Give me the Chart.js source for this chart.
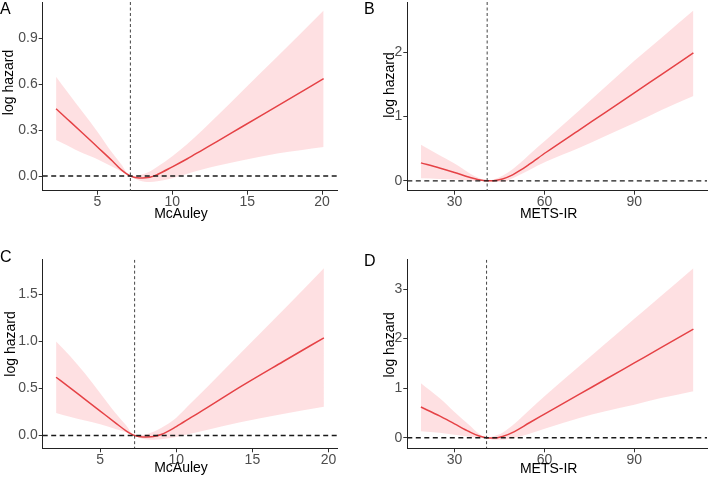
<!DOCTYPE html>
<html>
<head>
<meta charset="utf-8">
<script src="https://cdn.jsdelivr.net/npm/chart.js@4"></script>
<style>
  body { margin: 0; background: #fff; }
  #wrap { position: relative; width: 709px; height: 478px; }
  canvas { position: absolute; }
</style>
</head>
<body>
<div id="wrap">
  <canvas id="panelA" width="354" height="239" style="left:0;top:0"></canvas>
  <canvas id="panelB" width="355" height="239" style="left:354px;top:0"></canvas>
  <canvas id="panelC" width="354" height="239" style="left:0;top:239px"></canvas>
  <canvas id="panelD" width="355" height="239" style="left:354px;top:239px"></canvas>
</div>
<script>
// Panel A - McAuley
const xA   = [2.24, 3, 4, 5, 6, 6.6, 7.2, 7.8, 8.5, 9, 10, 11, 12, 13, 14.54, 17, 20.1];
const fitA = [0.44, 0.372, 0.282, 0.19, 0.098, 0.04, 0, -0.013, -0.008, 0.01, 0.06, 0.113, 0.17, 0.227, 0.316, 0.458, 0.637];
const lowA = [0.235, 0.2, 0.15, 0.11, 0.06, 0.03, 0, -0.03, -0.04, -0.035, -0.015, 0.015, 0.042, 0.067, 0.1, 0.147, 0.19];
const uppA = [0.65, 0.55, 0.42, 0.29, 0.15, 0.075, 0, 0.005, 0.03, 0.06, 0.13, 0.21, 0.3, 0.395, 0.544, 0.78, 1.083];
const refA = 7.2;
const xTicksA = [5, 10, 15, 20];
const yTicksA = [0, 0.3, 0.6, 0.9];
const yLabelsA = ['0.0', '0.3', '0.6', '0.9'];

// Panel B - METS-IR
const xB   = [18.8, 25, 30, 35, 38, 40.9, 43, 46, 49.4, 52, 55, 60.6, 71.7, 80, 90, 98.9, 109.7];
const fitB = [0.28, 0.2, 0.13, 0.055, 0.018, 0, 0.003, 0.03, 0.094, 0.165, 0.26, 0.445, 0.795, 1.055, 1.37, 1.65, 1.99];
const lowB = [0.04, 0.03, 0.02, 0.005, -0.005, 0, -0.02, -0.02, 0.04, 0.1, 0.17, 0.3, 0.515, 0.69, 0.9, 1.1, 1.32];
const uppB = [0.56, 0.4, 0.27, 0.12, 0.05, 0, 0.02, 0.08, 0.18, 0.28, 0.41, 0.64, 1.1, 1.45, 1.87, 2.22, 2.65];
const refB = 40.9;
const xTicksB = [30, 60, 90];
const yTicksB = [0, 1, 2];
const yLabelsB = ['0', '1', '2'];

// Panel C - McAuley
const xC   = [2.1, 3, 4, 5, 6, 6.7, 7.26, 7.8, 8.5, 9, 10, 11, 12, 14.2, 17, 19.7];
const fitC = [0.62, 0.51, 0.385, 0.26, 0.135, 0.05, 0, -0.015, -0.01, 0.01, 0.095, 0.195, 0.293, 0.517, 0.785, 1.04];
const lowC = [0.24, 0.2, 0.16, 0.12, 0.07, 0.035, 0, -0.035, -0.045, -0.04, -0.015, 0.02, 0.058, 0.14, 0.23, 0.305];
const uppC = [1.0, 0.85, 0.66, 0.45, 0.24, 0.11, 0, 0.005, 0.04, 0.08, 0.19, 0.35, 0.51, 0.872, 1.33, 1.78];
const refC = 7.26;
const xTicksC = [5, 10, 15, 20];
const yTicksC = [0, 0.5, 1, 1.5];
const yLabelsC = ['0.0', '0.5', '1.0', '1.5'];

// Panel D - METS-IR
const xD   = [18.8, 25, 30, 35, 38, 40.7, 43, 46, 50, 55, 60.6, 71.7, 80, 90, 98.9, 109.7];
const fitD = [0.62, 0.44, 0.28, 0.12, 0.04, 0, -0.006, 0.025, 0.125, 0.303, 0.496, 0.879, 1.165, 1.51, 1.817, 2.19];
const lowD = [0.13, 0.1, 0.06, 0.02, 0.005, 0, -0.04, -0.04, 0.0, 0.08, 0.19, 0.4, 0.53, 0.665, 0.8, 0.94];
const uppD = [1.1, 0.8, 0.52, 0.25, 0.09, 0, 0.03, 0.1, 0.28, 0.56, 0.87, 1.45, 1.88, 2.4, 2.86, 3.42];
const refD = 40.7;
const xTicksD = [30, 60, 90];
const yTicksD = [0, 1, 2, 3];
const yLabelsD = ['0', '1', '2', '3'];

const FONT = "'Liberation Sans', Arial, Helvetica, sans-serif";
const RED = '#e03a3c';
const BAND = 'rgba(250, 100, 110, 0.2)';

const pts = (xs, ys) => xs.map((x, i) => ({ x: x, y: ys[i] }));

// ggplot style 5% expansion of the data range
const expand = (lo, hi) => {
  const d = (hi - lo) * 0.05;
  return [lo - d, hi + d];
};

const decor = {
  id: 'decor',
  afterDatasetsDraw(chart, args, o) {
    const { ctx, chartArea: a, scales: { x, y } } = chart;
    ctx.save();
    ctx.beginPath();
    ctx.rect(a.left, a.top, a.right - a.left, a.bottom - a.top);
    ctx.clip();
    // reference value
    const rx = x.getPixelForValue(o.ref);
    ctx.beginPath();
    ctx.setLineDash([3, 2.5]);
    ctx.lineWidth = 1;
    ctx.strokeStyle = '#444';
    ctx.moveTo(rx, a.top);
    ctx.lineTo(rx, a.bottom);
    ctx.stroke();
    // log hazard = 0
    const y0 = y.getPixelForValue(0);
    ctx.beginPath();
    ctx.setLineDash([5, 3.5]);
    ctx.lineWidth = 1.3;
    ctx.strokeStyle = '#1a1a1a';
    ctx.moveTo(a.left, y0);
    ctx.lineTo(a.right, y0);
    ctx.stroke();
    ctx.restore();
  },
  afterDraw(chart, args, o) {
    const ctx = chart.ctx;
    ctx.save();
    ctx.fillStyle = '#000';
    ctx.textBaseline = 'alphabetic';
    ctx.font = '16px ' + FONT;
    ctx.textAlign = 'left';
    ctx.fillText(o.letter, o.letterX, o.letterY);
    ctx.font = '14px ' + FONT;
    ctx.textAlign = 'center';
    ctx.fillText(o.xTitle, o.xTitleX, o.xTitleY);
    ctx.translate(o.yTitleX, o.yTitleY);
    ctx.rotate(-Math.PI / 2);
    ctx.fillText('log hazard', 0, 0);
    ctx.restore();
  }
};

function makePanel(id, xs, fit, low, upp, ref, xTicks, yTicks, yLabels, box, text) {
  const xr = expand(Math.min(...xs), Math.max(...xs));
  const yr = expand(Math.min(...low), Math.max(...upp));
  return new Chart(document.getElementById(id), {
    type: 'line',
    data: {
      datasets: [
        { data: pts(xs, low), borderColor: 'rgba(0,0,0,0)', borderWidth: 0, pointRadius: 0, fill: false, cubicInterpolationMode: 'monotone' },
        { data: pts(xs, upp), borderColor: 'rgba(0,0,0,0)', borderWidth: 0, pointRadius: 0, fill: '-1', backgroundColor: BAND, cubicInterpolationMode: 'monotone' },
        { data: pts(xs, fit), borderColor: RED, borderWidth: 1.5, pointRadius: 0, fill: false, cubicInterpolationMode: 'monotone' }
      ]
    },
    options: {
      responsive: false,
      animation: false,
      events: [],
      layout: { padding: { left: 0, right: box.right, top: box.top, bottom: 0 } },
      plugins: {
        legend: { display: false },
        tooltip: { enabled: false },
        decor: Object.assign({ ref: ref }, text)
      },
      scales: {
        x: {
          type: 'linear',
          min: xr[0],
          max: xr[1],
          afterBuildTicks: s => { s.ticks = xTicks.map(v => ({ value: v })); },
          afterFit: s => { s.height = box.xAxisH; s.paddingLeft = 0; s.paddingRight = 0; },
          ticks: { color: '#4d4d4d', font: { family: FONT, size: 14 }, padding: -1, maxRotation: 0, autoSkip: false },
          grid: { drawOnChartArea: false, drawTicks: true, tickLength: 4, color: '#333' },
          border: { display: true, color: '#222', width: 1 }
        },
        y: {
          type: 'linear',
          min: yr[0],
          max: yr[1],
          afterBuildTicks: s => { s.ticks = yTicks.map(v => ({ value: v })); },
          afterFit: s => { s.width = box.yAxisW; s.paddingTop = 0; s.paddingBottom = 0; },
          ticks: { color: '#4d4d4d', font: { family: FONT, size: 14 }, padding: 1, autoSkip: false,
                   callback: (v, i) => yLabels[i] },
          grid: { drawOnChartArea: false, drawTicks: true, tickLength: 4, color: '#333' },
          border: { display: true, color: '#222', width: 1 }
        }
      }
    },
    plugins: [decor]
  });
}

makePanel('panelA', xA, fitA, lowA, uppA, refA, xTicksA, yTicksA, yLabelsA,
  { right: 17, top: 2, xAxisH: 48.3, yAxisW: 42.7 },
  { letter: 'A', letterX: 0, letterY: 13.5, xTitle: 'McAuley', xTitleX: 181, xTitleY: 218, yTitleX: 13, yTitleY: 82.5 });

makePanel('panelB', xB, fitB, lowB, uppB, refB, xTicksB, yTicksB, yLabelsB,
  { right: 2, top: 2, xAxisH: 48.3, yAxisW: 53.3 },
  { letter: 'B', letterX: 10, letterY: 14, xTitle: 'METS-IR', xTitleX: 194.7, xTitleY: 218.3, yTitleX: 39.7, yTitleY: 85 });

makePanel('panelC', xC, fitC, lowC, uppC, refC, xTicksC, yTicksC, yLabelsC,
  { right: 16.7, top: 20.7, xAxisH: 29.7, yAxisW: 42.7 },
  { letter: 'C', letterX: 0, letterY: 23.3, xTitle: 'McAuley', xTitleX: 181, xTitleY: 233, yTitleX: 15, yTitleY: 105 });

makePanel('panelD', xD, fitD, lowD, uppD, refD, xTicksD, yTicksD, yLabelsD,
  { right: 2, top: 20.7, xAxisH: 29.7, yAxisW: 53.3 },
  { letter: 'D', letterX: 10, letterY: 26.7, xTitle: 'METS-IR', xTitleX: 194.7, xTitleY: 234, yTitleX: 39.7, yTitleY: 105.8 });
</script>
</body>
</html>
